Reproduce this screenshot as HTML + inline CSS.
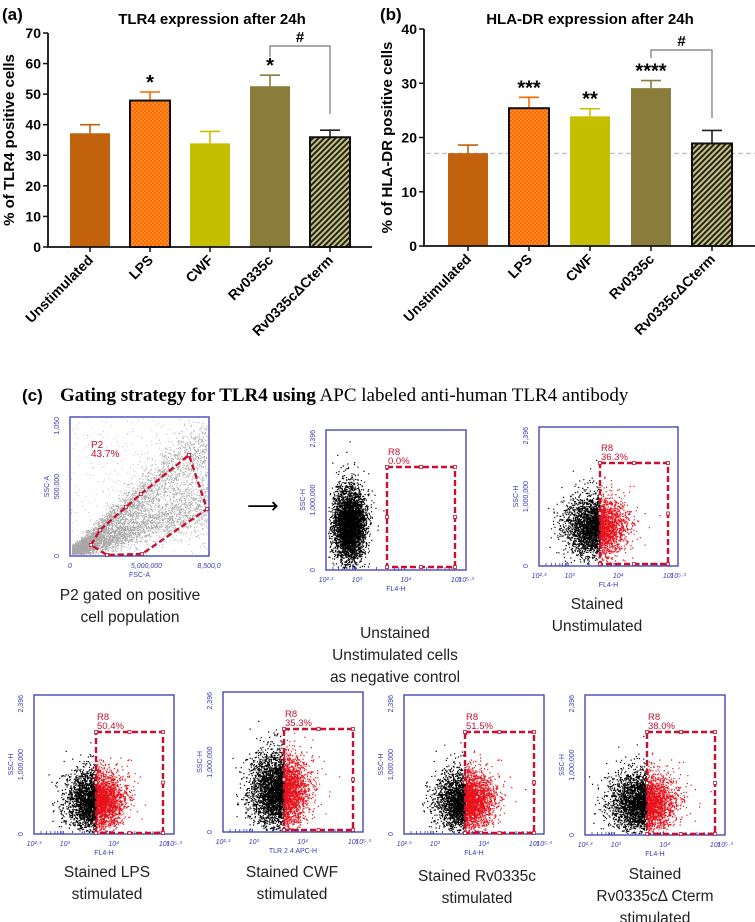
<!DOCTYPE html>
<html><head><meta charset="utf-8"><style>
html,body{margin:0;padding:0;background:#fff}
svg{display:block}
.ax{font-family:"Liberation Sans",Arial,sans-serif;font-weight:bold}
.fl{font-family:"Liberation Sans",Arial,sans-serif;fill:#3a3ab8;font-size:7px}
.cap{font-family:"Liberation Sans",Arial,sans-serif;font-size:15.5px;fill:#222}
</style></head><body>
<svg id="fig" width="755" height="922" viewBox="0 0 755 922" xmlns="http://www.w3.org/2000/svg">
<defs>
<pattern id="chk" width="4" height="4" patternUnits="userSpaceOnUse"><rect width="4" height="4" fill="#ff6a00"/><rect width="2" height="2" fill="#ff8c2a"/><rect x="2" y="2" width="2" height="2" fill="#ff8c2a"/></pattern>
<pattern id="hatch" width="4" height="4" patternUnits="userSpaceOnUse" patternTransform="rotate(45)"><rect width="4" height="4" fill="#222"/><rect width="2" height="4" fill="#c8c37a"/></pattern>
</defs>
<g id="panelA"></g>
<g id="panelB"></g>
<g id="panelC">
<text x="22" y="401" class="ax" font-size="17">(c)</text>
<text x="60" y="401" font-family="'Liberation Serif',serif" font-size="19"><tspan font-weight="bold">Gating strategy for TLR4 using</tspan> APC labeled anti-human TLR4 antibody</text>
<text x="247" y="513" font-size="22" font-family="'DejaVu Sans',sans-serif">⟶</text>
</g>
</svg>
<script>
const categories=["Unstimulated","LPS","CWF","Rv0335c","Rv0335c\u0394Cterm"];
const tlr4Values=[37.2,47.9,33.9,52.6,35.9];
const tlr4Errors=[2.8,2.8,3.9,3.6,2.3];
const tlr4Ticks=[0,10,20,30,40,50,60,70];
const tlr4Stars=["","*","","*",""];
const hlaValues=[17.1,25.4,23.9,29.1,18.9];
const hlaErrors=[1.5,2.0,1.4,1.4,2.4];
const hlaTicks=[0,10,20,30,40];
const hlaStars=["","***","**","****",""];
const gatePercents=["43.7%","0.0%","36.3%","50.4%","35.3%","51.5%","38.0%"];

const NS="http://www.w3.org/2000/svg";
function mk(parent,tag,attrs,text){const e=document.createElementNS(NS,tag);for(const k in attrs)e.setAttribute(k,attrs[k]);if(text!==undefined)e.textContent=text;parent.appendChild(e);return e;}
const fills=["#c2620c","url(#chk)","#c4bf00","#8a7d3c","url(#hatch)"];
const errCols=["#c2620c","#ff6a00","#c4bf00","#8a7d3c","#222"];
const strokes=["none","#111","none","none","#111"];

function barChart(g,cfg){
  const y=v=>cfg.y0-(v-0)*(cfg.y0-cfg.yTop)/cfg.max;
  const x=i=>cfg.x0+i*cfg.step;
  let t=mk(g,'text',{x:cfg.lx,y:20,class:'ax','font-size':17});
  t.textContent=cfg.label;
  t=mk(g,'text',{x:cfg.tx,y:24,class:'ax','font-size':15,'text-anchor':'middle'});
  t.textContent=cfg.title;
  t=mk(g,'text',{x:0,y:0,class:'ax','font-size':15,'text-anchor':'middle',transform:`translate(${cfg.ylx},${(cfg.y0+cfg.yTop)/2}) rotate(-90)`});
  t.textContent=cfg.ytitle;
  if(cfg.ref!==undefined){const l=mk(g,'line',{x1:cfg.axL+2,x2:cfg.axR,y1:y(cfg.ref),y2:y(cfg.ref),stroke:'#999','stroke-dasharray':'5,3','stroke-width':0.8});
    }
  cfg.vals.forEach((v,i)=>{
    const cx=x(i),w=40;
    const e1=mk(g,'line',{x1:cx,x2:cx,y1:y(v),y2:y(v+cfg.errs[i]),stroke:errCols[i],'stroke-width':1.6});
    
    mk(g,'line',{x1:cx-10,x2:cx+10,y1:y(v+cfg.errs[i]),y2:y(v+cfg.errs[i]),stroke:errCols[i],'stroke-width':1.6});
    const b=mk(g,'rect',{x:cx-w/2,y:y(v),width:w,height:y(0)-y(v),fill:fills[i],stroke:strokes[i],'stroke-width':2});
    
    if(cfg.stars[i]){const s=mk(g,'text',{x:cx,y:y(v+cfg.errs[i])-3,class:'ax','font-size':20,'text-anchor':'middle'});
      s.textContent=cfg.stars[i];}
    mk(g,'line',{x1:cx,x2:cx,y1:cfg.y0,y2:cfg.y0+5,stroke:'#111','stroke-width':1.5});
    const lb=mk(g,'text',{x:0,y:0,class:'ax','font-size':14,'text-anchor':'end',transform:`translate(${cx+4},${cfg.y0+14}) rotate(-45)`});
    lb.textContent=categories[i];
  });
  const ax=mk(g,'path',{d:`M${cfg.axL},${cfg.yTop} V${cfg.y0} H${cfg.axR}`,fill:'none',stroke:'#111','stroke-width':1.8});
  
  cfg.ticks.forEach(tv=>{mk(g,'line',{x1:cfg.axL-5,x2:cfg.axL,y1:y(tv),y2:y(tv),stroke:'#111','stroke-width':1.5});
    const tl=mk(g,'text',{x:cfg.axL-7,y:y(tv)+5,class:'ax','font-size':14,'text-anchor':'end'});
    tl.textContent=tv;});
  const bx1=x(3),bx2=x(4),by=cfg.brY;
  const br=mk(g,'path',{d:`M${bx1},${cfg.brL} V${by} H${bx2} V${cfg.brR}`,fill:'none',stroke:'#777','stroke-width':1.2});
  
  const h=mk(g,'text',{x:(bx1+bx2)/2,y:by-4,class:'ax','font-size':15,'text-anchor':'middle'});
  h.textContent='#';
}
barChart(document.getElementById('panelA'),{label:'(a)',lx:2,title:'TLR4 expression after 24h',tx:212,ytitle:'% of TLR4 positive cells',ylx:14,
  y0:247,yTop:33,max:70,x0:90,step:60,axL:48,axR:372,vals:tlr4Values,errs:tlr4Errors,ticks:tlr4Ticks,stars:tlr4Stars,brY:46,brL:57,brR:114});
barChart(document.getElementById('panelB'),{label:'(b)',lx:380,title:'HLA-DR expression after 24h',tx:590,ytitle:'% of HLA-DR positive cells',ylx:392,
  y0:246,yTop:29,max:40,x0:468,step:61,axL:424,axR:755,vals:hlaValues,errs:hlaErrors,ticks:hlaTicks,stars:hlaStars,ref:hlaValues[0],brY:50,brL:58,brR:118});

let seed=12345;function rnd(){seed=(seed*1103515245+12345)&0x7fffffff;return seed/0x7fffffff;}
function gauss(){let u=rnd()||1e-6,v=rnd();return Math.sqrt(-2*Math.log(u))*Math.cos(2*Math.PI*v);}
const pc=document.getElementById('panelC');
function frame(g,b,xl,yl,xt,ytop){
  const r=mk(g,'rect',{x:b[0],y:b[1],width:b[2]-b[0],height:b[3]-b[1],fill:'none',stroke:'#3a3ab8','stroke-width':1.3});
  
  const yl1=mk(g,'text',{x:0,y:0,class:'fl','text-anchor':'middle',transform:`translate(${b[0]-21},${(b[1]+b[3])/2}) rotate(-90)`,fill:'#222'},yl);
  
  mk(g,'text',{x:0,y:0,class:'fl','text-anchor':'middle',transform:`translate(${b[0]-11},${(b[1]+b[3])/2}) rotate(-90)`},ytop[1]);
  mk(g,'text',{x:0,y:0,class:'fl','text-anchor':'end',transform:`translate(${b[0]-11},${b[1]}) rotate(-90)`},ytop[0]);
  mk(g,'text',{x:0,y:0,class:'fl','text-anchor':'middle',transform:`translate(${b[0]-11},${b[3]}) rotate(-90)`},'0');
  const xl1=mk(g,'text',{x:(b[0]+b[2])/2,y:b[3]+21,class:'fl','text-anchor':'middle',fill:'#222'},xl);
  
  xt.forEach(([f,s])=>mk(g,'text',{x:b[0]+f*(b[2]-b[0]),y:b[3]+12,class:'fl','text-anchor':'middle','font-style':'italic'},s));
}
function gate(g,q,pct){
  const p=mk(g,'rect',{x:q[0],y:q[1],width:q[2]-q[0],height:q[3]-q[1],fill:'none',stroke:'#c8102e','stroke-width':2.4,'stroke-dasharray':'6,3'});
  
  [[q[0],q[1]],[(q[0]+q[2])/2,q[1]],[q[2],q[1]],[q[0],(q[1]+q[3])/2],[q[2],(q[1]+q[3])/2],[q[0],q[3]],[(q[0]+q[2])/2,q[3]],[q[2],q[3]]].forEach(([a,c])=>
    mk(g,'rect',{x:a-1.5,y:c-1.5,width:3,height:3,fill:'#fff',stroke:'#c8102e','stroke-width':0.8}));
  const t=mk(g,'text',{x:q[0]+1,y:q[1]-12,fill:'#c8102e','font-family':'Liberation Sans,sans-serif','font-size':9.5},'R8');
  
  mk(g,'text',{x:q[0]+1,y:q[1]-3,fill:'#c8102e','font-family':'Liberation Sans,sans-serif','font-size':9.5},pct);
}
function cloud(g,n,cx,sx,cy,sy,gx,b){
  let k='',r='';
  for(let i=0;i<n;i++){const px=cx+gauss()*sx,py=cy+gauss()*sy*(1+0.3*Math.abs(gauss()));
    if(px<b[0]+2||px>b[2]-2||py<b[1]+2||py>b[3]-2)continue;
    const s=`M${px.toFixed(1)} ${py.toFixed(1)}h1.2v1.2h-1.2z`;if(gx!==null&&px>gx)r+=s;else k+=s;}
  const a=mk(g,'path',{d:k,fill:'#000'});
  const c=mk(g,'path',{d:r,fill:'#e8101a'});
}
function caption(lines,cx,y0,dy){lines.forEach((l,i)=>{const t=mk(pc,'text',{x:cx,y:y0+i*dy,class:'cap','text-anchor':'middle'},l);
  });}
const logTicks=[[0,'10²·³'],[0.22,'10³'],[0.57,'10⁴'],[0.93,'10⁵'],[1.0,'10⁵·³']];
function minor(g,b){const w=b[2]-b[0];[0.05,0.09,0.12,0.15,0.17,0.19,0.2,0.21,0.36,0.44,0.49,0.52,0.54,0.56,0.72,0.8,0.85,0.88,0.9,0.92].forEach(f=>
  mk(g,'line',{x1:b[0]+f*w,x2:b[0]+f*w,y1:b[3],y2:b[3]-3,stroke:'#3a3ab8','stroke-width':0.8}));}
(function(){const g=mk(pc,'g',{});
  const b=[70,417,209,556];let d='';
  for(let i=0;i<6000;i++){const t=Math.pow(rnd(),1.6);const slope=rnd()<0.5?0.8+gauss()*0.12:0.38+gauss()*0.07;
    const px=b[0]+2+t*135,py=b[3]-2-(px-b[0])*slope+gauss()*(3+t*8); if(py<b[1]+2||py>b[3]-2)continue;d+=`M${px.toFixed(1)} ${py.toFixed(1)}h1v1h-1z`;}
  for(let i=0;i<400;i++){const px=b[0]+rnd()*139,py=b[1]+rnd()*139;d+=`M${px.toFixed(1)} ${py.toFixed(1)}h0.8v0.8h-0.8z`;}
  mk(g,'path',{d:d,fill:'#222','fill-opacity':0.4});
  frame(g,b,'FSC-A','SSC-A',[[0,'0'],[0.55,'5,000,000'],[1,'8,500,0']],['1,050','500,000']);
  const pts=[[91,545],[100,530],[126,507],[141,494],[189,455],[207,509],[142,554],[107,555]];
  const p=mk(g,'polygon',{points:pts.map(q=>q.join(',')).join(' '),fill:'none',stroke:'#c8102e','stroke-width':2.4,'stroke-dasharray':'6,3'});
  
  pts.forEach(([a,c])=>mk(g,'rect',{x:a-1.5,y:c-1.5,width:3,height:3,fill:'#fff',stroke:'#c8102e','stroke-width':0.8}));
  mk(g,'text',{x:91,y:448,fill:'#c8102e','font-family':'Liberation Sans,sans-serif','font-size':10},'P2');
  mk(g,'text',{x:91,y:457,fill:'#c8102e','font-family':'Liberation Sans,sans-serif','font-size':10},gatePercents[0]);
})();
caption(['P2 gated on positive','cell population'],130,600,22);
const plots=[
 {b:[326,430,466,570],q:[387,467,455,567],cx:349,sx:8,cy:524,sy:15,n:4000,all:true,xl:'FL4-H',cap:['Unstained','Unstimulated cells','as negative control'],ccx:395,cy0:638,dy:22,pct:gatePercents[1]},
 {b:[539,427,678,566],q:[600,463,668,564],cx:595,sx:15,cy:526,sy:12,n:3400,xl:'FL4-H',cap:['Stained','Unstimulated'],ccx:597,cy0:609,dy:22,pct:gatePercents[2]},
 {b:[34,695,174,834],q:[96,732,163,833],cx:95,sx:14,cy:800,sy:12,n:3600,xl:'FL4-H',cap:['Stained LPS','stimulated'],ccx:107,cy0:877,dy:22,pct:gatePercents[3]},
 {b:[223,692,363,832],q:[284,729,353,830],cx:279,sx:14,cy:790,sy:15,n:4200,xl:'TLR 2 4 APC-H',cap:['Stained CWF','stimulated'],ccx:292,cy0:877,dy:22,pct:gatePercents[4]},
 {b:[404,695,544,834],q:[465,732,534,833],cx:465,sx:14,cy:800,sy:12,n:3600,xl:'FL4-H',cap:['Stained Rv0335c','stimulated'],ccx:477,cy0:881,dy:22,pct:gatePercents[5]},
 {b:[585,695,725,835],q:[647,732,715,834],cx:642,sx:16,cy:802,sy:12,n:3600,xl:'FL4-H',cap:['Stained','Rv0335c\u0394 Cterm','stimulated'],ccx:655,cy0:879,dy:22,pct:gatePercents[6]}
];
plots.forEach(p=>{const g=mk(pc,'g',{});
  cloud(g,p.n,p.cx,p.sx,p.cy,p.sy,p.all?null:p.q[0],p.b);
  frame(g,p.b,p.xl,'SSC-H',logTicks,['2,396','1,000,000']);minor(g,p.b);gate(g,p.q,p.pct);
  caption(p.cap,p.ccx,p.cy0,p.dy);});
</script>
</body></html>
